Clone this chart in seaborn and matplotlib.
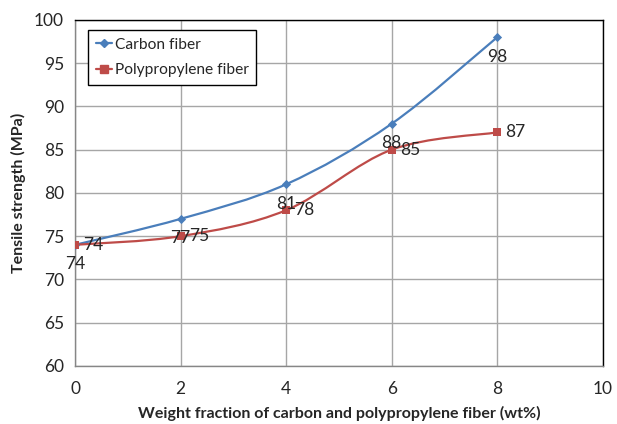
import numpy as np
import pandas as pd
import seaborn as sns
import matplotlib.pyplot as plt
from matplotlib.path import Path
from matplotlib.patches import PathPatch
from matplotlib.lines import Line2D

# data
fraction = [0, 2, 4, 6, 8]
carbon = [74, 77, 81, 88, 98]
polypropylene = [74, 75, 78, 85, 87]

blue = '#4A7EBB'
red = '#BE4B48'


def smoothPath(xs, ys):
	# Excel style smoothed line: cubic bezier through every point
	pts = np.column_stack([xs, ys]).astype(float)
	ext = np.vstack([pts[0], pts, pts[-1]])
	verts = [pts[0]]
	codes = [Path.MOVETO]
	for i in range(1, len(ext) - 2):
		p0, p1, p2, p3 = ext[i - 1], ext[i], ext[i + 1], ext[i + 2]
		verts += [p1 + (p2 - p0) / 6.0, p2 - (p3 - p1) / 6.0, p2]
		codes += [Path.CURVE4] * 3
	return Path(verts, codes)


sns.set_style('white')
plt.rcParams['font.family'] = ['Lato', 'DejaVu Sans']

fig, ax = plt.subplots(figsize=(6.17, 4.24), dpi=100)
fig.subplots_adjust(left=0.1216, right=0.977, top=0.953, bottom=0.137)

df = pd.DataFrame({'x': fraction, 'carbon': carbon, 'pp': polypropylene})

# smoothed lines
for col, color in [('carbon', blue), ('pp', red)]:
	ax.add_patch(PathPatch(smoothPath(df['x'], df[col]), facecolor='none',
	                       edgecolor=color, lw=1.6, zorder=3))

# markers
sns.scatterplot(data=df, x='x', y='carbon', marker='D', s=22, color=blue,
                edgecolor=blue, linewidth=0, zorder=4, ax=ax)
sns.scatterplot(data=df, x='x', y='pp', marker='s', s=40, color=red,
                edgecolor=red, linewidth=0, zorder=4, ax=ax)

# data labels
for xv, yv in zip(fraction, carbon):
	ax.annotate(str(yv), (xv, yv), xytext=(0, -14), textcoords='offset points',
	            ha='center', va='center', fontsize=12.5, zorder=5)
for xv, yv in zip(fraction, polypropylene):
	ax.annotate(str(yv), (xv, yv), xytext=(6, 0), textcoords='offset points',
	            ha='left', va='center', fontsize=12.5, zorder=5)

ax.set_xlim(0, 10)
ax.set_ylim(60, 100)
ax.set_xticks(range(0, 11, 2))
ax.set_yticks(range(60, 101, 5))
ax.grid(True, color='#A6A6A6', lw=1)
ax.set_axisbelow(True)
ax.tick_params(axis='both', labelsize=12.5, length=4, color='#868686', direction='out')
ax.tick_params(axis='x', pad=7)
ax.tick_params(axis='y', pad=4)

for side in ['left', 'bottom']:
	ax.spines[side].set_color('#868686')
	ax.spines[side].set_linewidth(1)
for side in ['top', 'right']:
	ax.spines[side].set_color('black')
	ax.spines[side].set_linewidth(1)

ax.set_xlabel('Weight fraction of carbon and polypropylene fiber (wt%)',
              fontsize=11.5, fontweight='bold', labelpad=6)
ax.set_ylabel('Tensile strength (MPa)', fontsize=11.5, fontweight='bold', labelpad=6)

handles = [Line2D([0], [0], color=blue, lw=1.6, marker='D', markersize=4.5),
           Line2D([0], [0], color=red, lw=1.6, marker='s', markersize=6)]
leg = ax.legend(handles, ['Carbon fiber', 'Polypropylene fiber'], loc='upper left',
                bbox_to_anchor=(0.025, 0.971), borderaxespad=0, fancybox=False,
                edgecolor='black', framealpha=1, fontsize=11.2, handlelength=1.0,
                handletextpad=0.2, borderpad=0.5, labelspacing=0.75)
leg.get_frame().set_linewidth(1)

plt.savefig('out.png', dpi=100)
